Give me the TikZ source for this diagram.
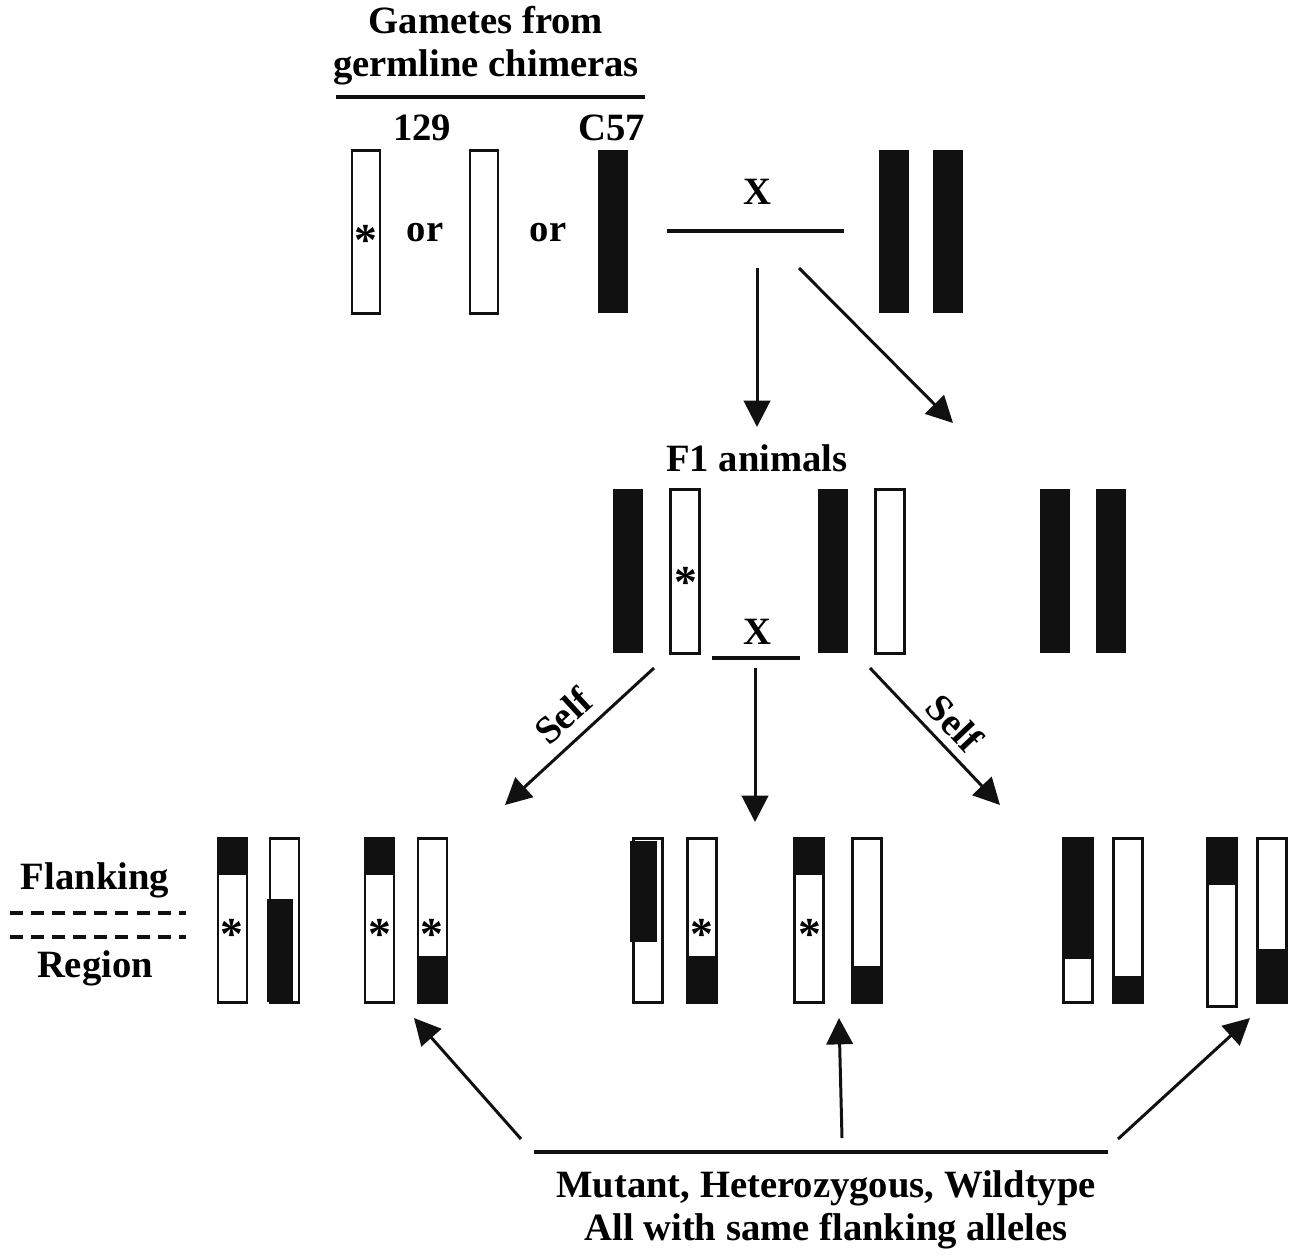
\documentclass[tikz,border=0pt]{standalone}
\usepackage{fontspec}
\setmainfont{Liberation Serif}
\usetikzlibrary{arrows.meta, positioning}
\definecolor{chromblack}{RGB}{17, 17, 17}
\tikzset{
    openbar/.style={draw=chromblack, fill=white, line width=1.7pt},
    solidbar/.style={fill=chromblack},
    band/.style={fill=chromblack},
    rule/.style={draw=chromblack, line width=1.8pt},
    dashrule/.style={draw=chromblack, line width=1.8pt, dash pattern=on 7.4pt off 4.6pt},
    arrow/.style={draw=chromblack, line width=1.7pt, -{Triangle[length=15pt, width=15pt]}},
    txt/.style={font=\fontsize{22}{24.5}\selectfont\bfseries, inner sep=0pt, align=center},
    allele/.style={font=\fontsize{26}{26}\selectfont\bfseries, inner sep=0pt, yshift=-4pt},
}
\begin{document}
\begin{tikzpicture}[x=0.02cm, y=-0.02cm]
    \useasboundingbox (0,0) rectangle (1295,1255);

    % gametes from the chimeras
    \node[txt] (title) at (486,46) {Gametes from\\germline chimeras};
    \draw[rule] (336,97) -- (645,97);
    \node[txt] (strainA) at (422,128) {129};
    \node[txt] (strainB) at (612,128) {C57};
    \draw[openbar] (352,150) rectangle (380,313);
    \node[allele] (gstar) at (366,233) {*};
    \node[txt] (orA) at (425,233) {or};
    \draw[openbar] (470,150) rectangle (498,313);
    \node[txt] (orB) at (548,233) {or};
    \fill[solidbar] (598,150) rectangle (628,313);
    \node[txt] (crossX) at (757,192) {X};
    \draw[rule] (667,231) -- (844,231);
    \foreach \x in {879,933}
        \fill[solidbar] (\x,150) rectangle ++(30,163);

    \coordinate (crossA) at (757,268);
    \coordinate (crossB) at (799,268);
    \coordinate (fone) at (757,427);
    \coordinate (wild) at (953,423);
    \draw[arrow] (crossA) -- (fone);
    \draw[arrow] (crossB) -- (wild);

    % F1 generation
    \node[txt] (fonelabel) at (757,458) {F1 animals};
    \foreach \x in {613,818,1040,1096}
        \fill[solidbar] (\x,489) rectangle ++(30,164);
    \foreach \x in {670,875}
        \draw[openbar] (\x,489) rectangle ++(29,164);
    \node[allele] (fstar) at (686,575) {*};
    \node[txt] (crossY) at (757,632) {X};
    \draw[rule] (712,658) -- (800,658);

    \coordinate (selfA) at (654,668);
    \coordinate (crossC) at (755,668);
    \coordinate (selfB) at (870,668);
    \coordinate (groupA) at (505,805);
    \coordinate (groupB) at (755,822);
    \coordinate (groupC) at (1000,805);
    \draw[arrow] (selfA) -- (groupA);
    \draw[arrow] (crossC) -- (groupB);
    \draw[arrow] (selfB) -- (groupC);
    \node[txt, rotate=42.6] (selflabelA) at (563,716) {Self};
    \node[txt, rotate=-46.5] (selflabelB) at (955,723) {Self};

    % F2 generation
    \node[txt] (flank) at (95,880) {Flanking};
    \draw[dashrule] (10,913) -- (186,913);
    \draw[dashrule] (10,937) -- (186,937);
    \node[txt] (region) at (95,968) {Region};

    \foreach \x in {218,270,365,418,633,687,794,852,1063,1113,1257}
        \draw[openbar] (\x,838) rectangle ++(29,164);
    \draw[openbar] (1207,838) rectangle ++(29,168);
    \foreach \x/\y in {218/875,365/875,794/875,1207/885}
        \fill[band] (\x,838) rectangle (\x+29,\y);
    \foreach \x/\y in {418/956,687/956,852/966,1113/976,1257/949}
        \fill[band] (\x,\y) rectangle (\x+29,1002);
    \fill[band] (1063,838) rectangle (1092,959);
    \fill[band] (267,899) rectangle (293,1002);
    \fill[band] (630,841) rectangle (657,942);
    \foreach \x in {232,380,432,702,810}
        \node[allele] (star\x) at (\x,927) {*};

    % common result
    \draw[rule] (534,1152) -- (1108,1152);
    \node[txt] (result) at (826,1210) {Mutant, Heterozygous, Wildtype\\All with same flanking alleles};
    \coordinate (baseA) at (521,1139);
    \coordinate (baseB) at (842,1138);
    \coordinate (baseC) at (1118,1139);
    \coordinate (backA) at (414,1018);
    \coordinate (backB) at (839,1018);
    \coordinate (backC) at (1250,1018);
    \draw[arrow] (baseA) -- (backA);
    \draw[arrow] (baseB) -- (backB);
    \draw[arrow] (baseC) -- (backC);
\end{tikzpicture}
\end{document}
